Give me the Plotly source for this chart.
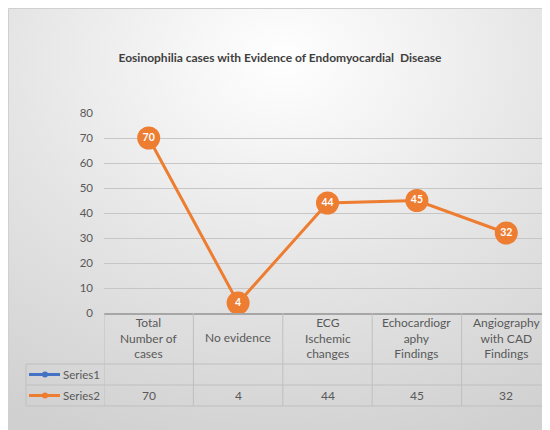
import base64
import plotly.graph_objects as go

# ---- data ----
categories = ["Total<br>Number of<br>cases", "No evidence", "ECG<br>Ischemic<br>changes",
              "Echocardiogr<br>aphy<br>Findings", "Angiography<br>with CAD<br>Findings"]
series_names = ["Series1", "Series2"]
series1 = [None, None, None, None, None]
series2 = [70, 4, 44, 45, 32]
y_ticks = [0, 10, 20, 30, 40, 50, 60, 70, 80]
title_text = "Eosinophilia cases with Evidence of Endomyocardial  Disease"

# ---- layout geometry (pixels, page coords; page has 8px body margin) ----
W, H = 550, 430
OFF = 8
L, T = 104 - OFF, 113 - OFF
PW, PH = 551 - 104, 200
R, B = W - L - PW, H - T - PH
FONT = "Lato"
TXT = "#595959"
BLUE = "#4472C4"
ORANGE = "#ED7D31"
TABLE_LINE = "#BFBFBF"


def px(xp):
    return (xp - OFF - L) / PW


def py(yp):
    return (T + PH - (yp - OFF)) / PH


x_idx = list(range(len(categories)))

fig = go.Figure()
fig.add_trace(go.Scatter(x=x_idx, y=series1, name=series_names[0], mode="lines+markers",
                         line=dict(color=BLUE, width=3), marker=dict(color=BLUE, size=6),
                         showlegend=False))
fig.add_trace(go.Scatter(x=x_idx, y=series2, name=series_names[1], mode="lines+markers+text",
                         line=dict(color=ORANGE, width=3),
                         marker=dict(color=ORANGE, size=23),
                         text=[str(v) for v in series2], textposition="middle center",
                         textfont=dict(family=FONT, size=10.5, color="white", weight="bold"),
                         cliponaxis=False, showlegend=False))

# background radial gradient
svg = ("<svg xmlns='http://www.w3.org/2000/svg' width='550' height='430' viewBox='0 0 550 430' "
       "preserveAspectRatio='none'><defs><radialGradient id='g' cx='0.5' cy='0.12' r='0.95'>"
       "<stop offset='0' stop-color='#ffffff'/><stop offset='0.5' stop-color='#e6e6e6'/>"
       "<stop offset='1' stop-color='#d0d0d0'/></radialGradient></defs>"
       "<rect width='550' height='430' fill='url(#g)'/></svg>")
src = "data:image/svg+xml;base64," + base64.b64encode(svg.encode()).decode()
fig.add_layout_image(dict(source=src, xref="paper", yref="paper", x=px(OFF), y=py(OFF),
                          sizex=W / PW, sizey=H / PH, sizing="stretch",
                          xanchor="left", yanchor="top", layer="below"))

shapes = []
# outer border
shapes.append(dict(type="rect", xref="paper", yref="paper", x0=px(OFF + 0.5), x1=px(OFF + W - 0.5),
                   y0=py(OFF + 0.5), y1=py(OFF + H - 0.5), line=dict(color="#D0D0D0", width=1)))
# table horizontal lines
row_lines = [364, 385, 406]
for yl in row_lines:
    shapes.append(dict(type="line", xref="paper", yref="paper", x0=px(26), x1=px(W + OFF),
                       y0=py(yl), y1=py(yl), line=dict(color=TABLE_LINE, width=1)))
# table vertical lines (category boundaries)
for i in range(len(categories)):
    shapes.append(dict(type="line", xref="x", yref="paper", x0=i - 0.5, x1=i - 0.5,
                       y0=py(313), y1=py(406), line=dict(color=TABLE_LINE, width=1)))
shapes.append(dict(type="line", xref="paper", yref="paper", x0=px(26), x1=px(26),
                   y0=py(364), y1=py(406), line=dict(color=TABLE_LINE, width=1)))
# legend keys
key_rows = [374.5, 395.5]
key_colors = [BLUE, ORANGE]
for yk, col in zip(key_rows, key_colors):
    shapes.append(dict(type="line", xref="paper", yref="paper", x0=px(29), x1=px(60),
                       y0=py(yk), y1=py(yk), line=dict(color=col, width=3)))
    shapes.append(dict(type="circle", xref="paper", yref="paper", x0=px(42), x1=px(48),
                       y0=py(yk - 3), y1=py(yk + 3), fillcolor=col, line=dict(color=col, width=0)))

annotations = []
for i, c in enumerate(categories):
    annotations.append(dict(x=i, y=py(337.5), xref="x", yref="paper", text=c, showarrow=False,
                            xanchor="center", yanchor="middle", align="center",
                            font=dict(family=FONT, size=12, color=TXT)))
for name, yk in zip(series_names, key_rows):
    annotations.append(dict(x=px(61), y=py(yk), xref="paper", yref="paper", text=name,
                            showarrow=False, xanchor="left", yanchor="middle",
                            font=dict(family=FONT, size=11.5, color=TXT)))
for vals, yk in zip([series1, series2], key_rows):
    for i, v in enumerate(vals):
        if v is None:
            continue
        annotations.append(dict(x=i, y=py(yk), xref="x", yref="paper", text=str(v),
                                showarrow=False, xanchor="center", yanchor="middle",
                                font=dict(family=FONT, size=12, color=TXT)))

fig.update_layout(
    width=W, height=H,
    margin=dict(l=L, r=R, t=T, b=B, pad=0),
    paper_bgcolor="white", plot_bgcolor="rgba(0,0,0,0)",
    title=dict(text="<b>" + title_text + "</b>", x=(280 - OFF) / W, xref="container",
               xanchor="center", y=1 - (58 - OFF) / H, yref="container", yanchor="middle",
               font=dict(family=FONT, size=12, color="#404040")),
    xaxis=dict(range=[-0.5, len(categories) - 0.5], showticklabels=False, showgrid=False,
               zeroline=False, showline=True, linecolor="#A6A6A6", linewidth=2, fixedrange=True),
    yaxis=dict(range=[0, 80], tickvals=y_ticks, showgrid=True, gridcolor="#C6C6C6", gridwidth=1,
               zeroline=False, showline=False, ticklabelstandoff=10,
               tickfont=dict(family=FONT, size=11.5, color=TXT)),
    shapes=shapes, annotations=annotations, showlegend=False,
)

fig.write_html("out.html")
